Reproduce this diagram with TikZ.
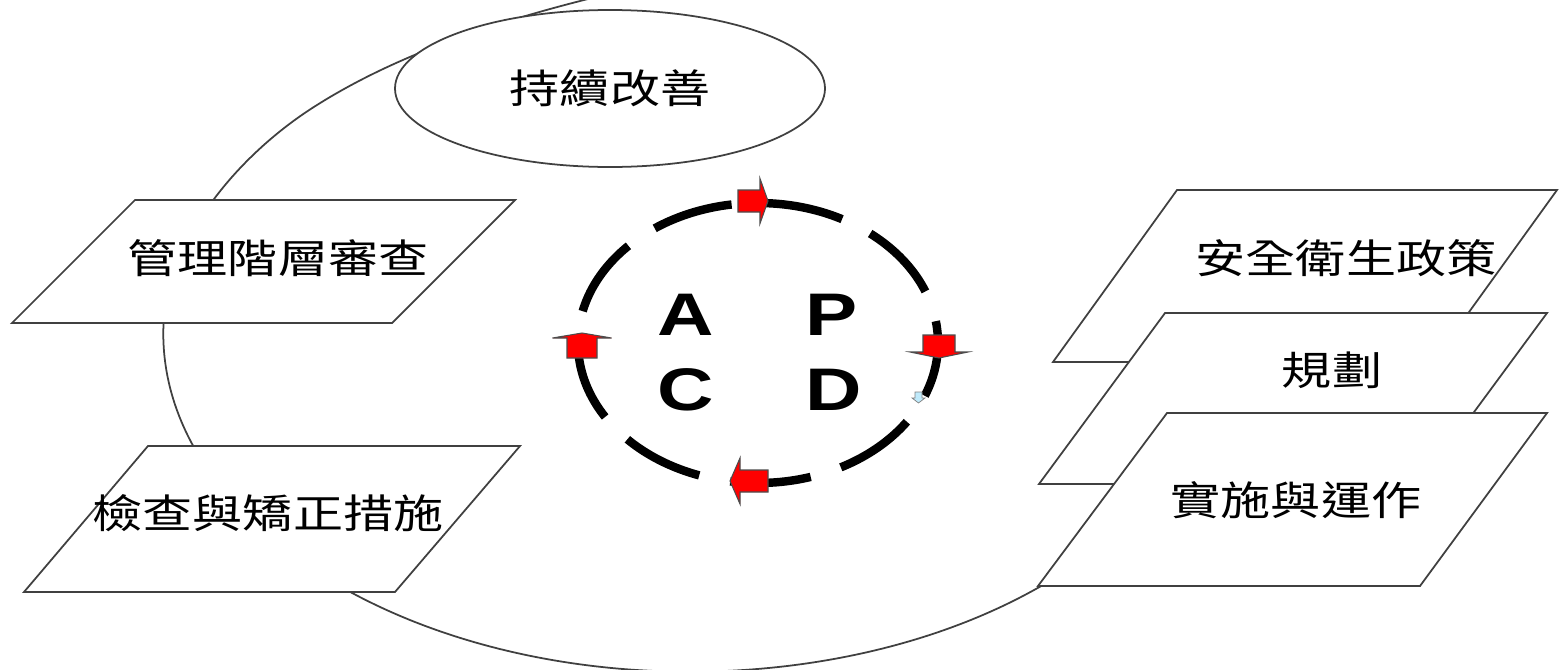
\documentclass[tikz,border=0pt]{standalone}
\usepackage{fontspec}
\newfontfamily\cjk[FakeStretch=1.25]{Noto Sans CJK TC}
\newfontfamily\pdcafont[FakeStretch=1.3]{Liberation Sans}
\usetikzlibrary{shapes.geometric}
\tikzset{>=stealth}
\tikzset{
  plate/.style={draw=black!75,fill=white,line width=0.5pt},
  cjktext/.style={font=\cjk\fontsize{11.4}{14}\selectfont,inner sep=0pt},
  pdca/.style={font=\pdcafont\bfseries\fontsize{17.1}{20}\selectfont,inner sep=0pt},
  cyclering/.style={line width=2.4pt,dash pattern=on 0.81cm off 0.316cm,dash phase=0.59cm},
  redarrow/.style={fill=red,draw=black!70,line width=0.3pt},
  bluearrow/.style={fill=cyan!25!white,draw=black!50,line width=0.2pt}
}
% junction, direction, body length, body half width, head length, head half width, style
\newcommand{\cyclearrow}[7]{%
  \begin{scope}[shift={#1},rotate=#2]
    \draw[#7] (-#3,-#4) -- (0,-#4) -- (0,-#6) -- (#5,0) -- (0,#6) -- (0,#4) -- (-#3,#4) -- cycle;
  \end{scope}}

\begin{document}
\begin{tikzpicture}
        \fill[white] (0,0) rectangle (15.59,6.69);
        \useasboundingbox (0,0) rectangle (15.59,6.69);
        % big loop behind everything
        \coordinate (loopend) at (10.94,1.18);
        \coordinate (loopleft) at (1.63,3.35);
        \coordinate (loopmid) at (3.17,5.64);
        \coordinate (looptop) at (7.00,6.95);
        \begin{scope}
          \clip (0,0) rectangle (15.59,6.69);
          \draw[draw=black!75,line width=0.5pt] (loopend)
            arc[start angle=-40,end angle=-180,x radius=5.27,y radius=3.38]
            .. controls (1.63,4.25) and (2.37,5.14) .. (loopmid)
            .. controls (4.17,6.27) and (5.50,6.65) .. (looptop);
        \end{scope}
        \node[ellipse,plate,cjktext,minimum width=4.30cm,minimum height=1.57cm] (improve) at (6.10,5.805) {持續改善};
        % left plates
        \draw[plate] (0.12,3.46) -- (3.92,3.46) -- (5.15,4.69) -- (1.35,4.69) -- cycle;
        \draw[plate] (0.24,0.77) -- (3.95,0.77) -- (5.20,2.23) -- (1.48,2.23) -- cycle;
        % right plates
        \draw[plate] (10.53,3.07) -- (14.33,3.07) -- (15.57,4.79) -- (11.77,4.79) -- cycle;
        \draw[plate] (10.39,1.85) -- (14.21,1.85) -- (15.47,3.56) -- (11.65,3.56) -- cycle;
        \draw[plate] (10.38,0.83) -- (14.20,0.83) -- (15.47,2.56) -- (11.67,2.56) -- cycle;
        \node[cjktext] (review) at (2.78,4.11) {管理階層審查};
        \node[cjktext] (check) at (2.68,1.56) {檢查與矯正措施};
        \node[cjktext] (policy) at (13.46,4.11) {安全衛生政策};
        \node[cjktext] (plan) at (13.32,2.99) {規劃};
        \node[cjktext] (run) at (12.96,1.69) {實施與運作};
        % PDCA ring
        \draw[cyclering] (7.58,3.26) ellipse (1.80 and 1.40);
        \cyclearrow{(7.60,4.68)}{0}{0.22}{0.11}{0.08}{0.225}{redarrow}
        \cyclearrow{(9.39,3.17)}{-90}{0.17}{0.16}{0.06}{0.29}{redarrow}
        \cyclearrow{(7.40,1.88)}{180}{0.28}{0.11}{0.10}{0.23}{redarrow}
        \cyclearrow{(5.82,3.31)}{90}{0.20}{0.15}{0.05}{0.295}{redarrow}
        \cyclearrow{(9.185,2.71)}{-90}{0.06}{0.035}{0.05}{0.065}{bluearrow}
        \node[pdca] (A) at (6.86,3.54) {A};
        \node[pdca] (P) at (8.32,3.54) {P};
        \node[pdca] (C) at (6.86,2.79) {C};
        \node[pdca] (D) at (8.34,2.79) {D};
      \end{tikzpicture}
\end{document}
